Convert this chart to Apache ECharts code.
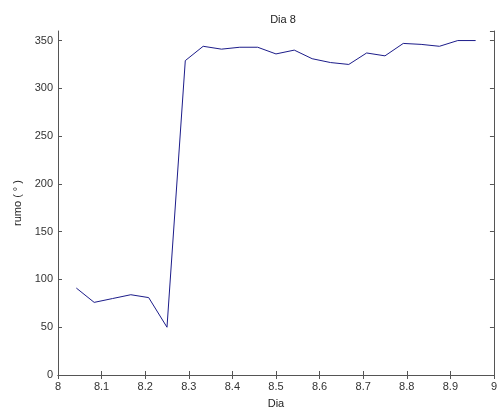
<!DOCTYPE html>
<html><head><meta charset="utf-8">
<script src="https://cdn.jsdelivr.net/npm/echarts@6/dist/echarts.min.js"></script>
<style>html,body{margin:0;padding:0;background:#fff}#c{width:500px;height:414px}</style>
</head><body><div id="c"></div>
<script>
var titleText = 'Dia 8';
var xName = 'Dia';
var yName = 'rumo ( ° )';
var dias = [8.042, 8.083, 8.125, 8.167, 8.208, 8.250, 8.292, 8.333, 8.375, 8.417, 8.458, 8.500, 8.542, 8.583, 8.625, 8.667, 8.708, 8.750, 8.792, 8.833, 8.875, 8.917, 8.958];
var rumo = [91, 76, 80, 84, 81, 50, 329, 344, 341, 343, 343, 336, 340, 331, 327, 325, 337, 334, 347, 346, 344, 350, 350];

var pts = dias.map(function (d, i) { return [d, rumo[i]]; });
var font = 'Liberation Sans, Arial, sans-serif';
var axisCol = '#555555';
var chart = echarts.init(document.getElementById('c'));
chart.setOption({
  animation: false,
  backgroundColor: '#ffffff',
  title: { text: titleText, left: 278, top: 9, textAlign: 'center',
    textStyle: { fontFamily: font, fontSize: 11, fontWeight: 'normal', color: '#222' } },
  grid: { left: 58, right: 2, top: 31, bottom: 37 },
  xAxis: [{
    type: 'value', min: 8, max: 9, interval: 0.1,
    name: xName, nameLocation: 'middle', nameGap: 23,
    nameTextStyle: { fontFamily: font, fontSize: 11, color: '#222' },
    axisLine: { lineStyle: { color: axisCol } },
    axisTick: { inside: true, length: 4, lineStyle: { color: axisCol } },
    axisLabel: { fontFamily: font, fontSize: 11, color: '#333', margin: 6,
      formatter: function (v) { return Math.abs(v - Math.round(v)) < 1e-9 ? String(Math.round(v)) : v.toFixed(1); } },
    splitLine: { show: false }
  }, {
    type: 'value', min: 8, max: 9, interval: 0.1, position: 'top',
    axisLine: { lineStyle: { color: axisCol } },
    axisTick: { inside: true, length: 4, lineStyle: { color: axisCol } },
    axisLabel: { show: false }, splitLine: { show: false }
  }],
  yAxis: [{
    type: 'value', min: 0, max: 360, interval: 50,
    name: yName, nameLocation: 'middle', nameGap: 34, nameRotate: 90,
    nameTextStyle: { fontFamily: font, fontSize: 11, color: '#222' },
    axisLine: { show: true, lineStyle: { color: axisCol } },
    axisTick: { show: true, inside: true, length: 4, lineStyle: { color: axisCol } },
    axisLabel: { fontFamily: font, fontSize: 11, color: '#333', margin: 5 },
    splitLine: { show: false }
  }, {
    type: 'value', min: 0, max: 360, interval: 50, position: 'right',
    axisLine: { show: true, lineStyle: { color: axisCol } },
    axisTick: { show: true, inside: true, length: 4, lineStyle: { color: axisCol } },
    axisLabel: { show: false }, splitLine: { show: false }
  }],
  series: [{
    type: 'line', data: pts, xAxisIndex: 0, yAxisIndex: 0,
    showSymbol: false, symbol: 'none',
    lineStyle: { color: '#1c1c8a', width: 1 }
  }]
});
</script></body></html>
